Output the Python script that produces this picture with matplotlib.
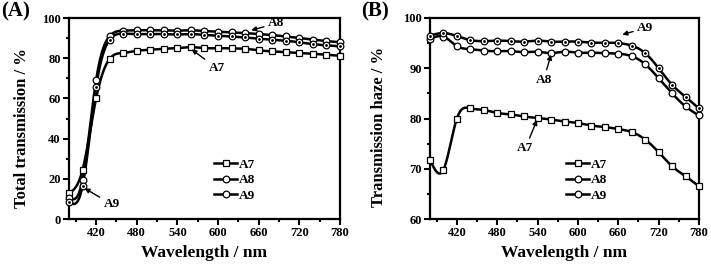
import numpy as np
import matplotlib
matplotlib.use("Agg")
import matplotlib.pyplot as plt
from matplotlib.ticker import MultipleLocator

plt.rcParams['font.family'] = ['Liberation Serif', 'DejaVu Serif']
plt.rcParams['font.weight'] = 'bold'

wavelength = [380, 400, 420, 440, 460, 480, 500, 520, 540, 560, 580,
              600, 620, 640, 660, 680, 700, 720, 740, 760, 780]

# Panel A: total transmission (%)
tt_a7 = [12.8, 24.4, 60.0, 79.7, 82.6, 83.7, 84.2, 84.7, 85.0, 85.5, 85.0,
         85.0, 84.9, 84.7, 83.9, 83.4, 83.0, 82.6, 82.2, 81.7, 81.2]
tt_a8 = [10.5, 19.5, 69.0, 91.0, 93.7, 93.9, 93.9, 93.9, 93.7, 93.9, 93.5,
         93.2, 92.8, 92.5, 92.0, 91.5, 90.8, 90.0, 89.3, 88.5, 88.0]
tt_a9 = [8.6, 16.4, 65.6, 89.2, 92.2, 92.0, 92.0, 92.0, 91.8, 92.0, 91.6,
         91.2, 90.8, 90.3, 89.7, 89.2, 88.7, 87.9, 87.0, 86.4, 85.9]

# Panel B: transmission haze (%)
th_a7 = [71.8, 69.8, 80.0, 82.0, 81.7, 81.1, 80.8, 80.4, 80.1, 79.8, 79.4,
         79.1, 78.6, 78.3, 77.9, 77.3, 75.8, 73.3, 70.5, 68.5, 66.5]
th_a8 = [95.8, 96.3, 94.4, 93.8, 93.5, 93.4, 93.4, 93.2, 93.3, 93.0, 93.3,
         93.1, 93.1, 93.0, 92.9, 92.4, 90.8, 88.0, 85.0, 82.4, 80.6]
th_a9 = [96.5, 97.0, 96.4, 95.6, 95.4, 95.5, 95.4, 95.3, 95.5, 95.3, 95.3,
         95.3, 95.1, 95.1, 95.0, 94.5, 93.0, 90.0, 86.7, 84.3, 82.0]

series_names = ['A7', 'A8', 'A9']
x_ticks = [420, 480, 540, 600, 660, 720, 780]


def spline(x, y, n=400):
    x = np.asarray(x, float)
    y = np.asarray(y, float)
    m = len(x)
    h = np.diff(x)
    A = np.zeros((m, m))
    b = np.zeros(m)
    A[0, 0] = 1
    A[-1, -1] = 1
    for i in range(1, m - 1):
        A[i, i - 1] = h[i - 1]
        A[i, i] = 2 * (h[i - 1] + h[i])
        A[i, i + 1] = h[i]
        b[i] = 6 * ((y[i + 1] - y[i]) / h[i] - (y[i] - y[i - 1]) / h[i - 1])
    M = np.linalg.solve(A, b)
    xs = np.linspace(x[0], x[-1], n)
    idx = np.clip(np.searchsorted(x, xs) - 1, 0, m - 2)
    x0, x1 = x[idx], x[idx + 1]
    hh = x1 - x0
    t0 = x1 - xs
    t1 = xs - x0
    ys = (M[idx] * t0**3 / (6 * hh) + M[idx + 1] * t1**3 / (6 * hh)
          + (y[idx] / hh - M[idx] * hh / 6) * t0
          + (y[idx + 1] / hh - M[idx + 1] * hh / 6) * t1)
    return xs, ys


fig = plt.figure(figsize=(7.11, 2.67), dpi=100)
axA = fig.add_axes([69 / 711, 48 / 267, 271 / 711, 201 / 267])
axB = fig.add_axes([430 / 711, 48 / 267, 269 / 711, 201 / 267])

markers = ['s', 'o', 'o']
lw = 1.8
ms = 4.8


def draw(ax, ys_list):
    handles = []
    for name, ys, mk in zip(series_names, ys_list, markers):
        sx, sy = spline(wavelength, ys)
        ax.plot(sx, sy, color='black', lw=lw, zorder=2, clip_on=False)
        ax.plot(wavelength, ys, linestyle='none', marker=mk, ms=ms,
                mfc='white', mec='black', mew=0.9, zorder=3, clip_on=False)
        if name == 'A9':
            ax.plot(wavelength, ys, linestyle='none', marker='o', ms=1.0,
                    mfc='black', mec='black', zorder=4, clip_on=False)
        h, = ax.plot([], [], color='black', lw=lw, marker=mk, ms=ms,
                     mfc='white', mec='black', mew=0.9)
        handles.append(h)
    return handles


hA = draw(axA, [tt_a7, tt_a8, tt_a9])
hB = draw(axB, [th_a7, th_a8, th_a9])

for ax in (axA, axB):
    ax.set_xlim(380, 780)
    ax.set_xticks(x_ticks)
    ax.xaxis.set_minor_locator(MultipleLocator(30))
    ax.tick_params(which='major', direction='out', length=4, width=1.5,
                   labelsize=9, pad=2)
    ax.tick_params(which='minor', direction='out', length=2.5, width=1.5)
    for sp in ax.spines.values():
        sp.set_linewidth(1.6)
    ax.set_xlabel('Wavelength / nm', fontsize=12.5, fontweight='bold', labelpad=4)

axA.set_ylim(0, 100)
axA.yaxis.set_major_locator(MultipleLocator(20))
axA.yaxis.set_minor_locator(MultipleLocator(10))
axA.set_ylabel('Total transmission / %', fontsize=12, fontweight='bold')
axA.yaxis.set_label_coords(-0.145, 0.45)

axB.set_ylim(60, 100)
axB.yaxis.set_major_locator(MultipleLocator(10))
axB.yaxis.set_minor_locator(MultipleLocator(5))
axB.set_ylabel('Transmission haze / %', fontsize=12, fontweight='bold')
axB.yaxis.set_label_coords(-0.16, 0.46)

for ax in (axA, axB):
    for lab in ax.get_xticklabels() + ax.get_yticklabels():
        lab.set_fontweight('bold')

# Legends
for ax, hs, bx in ((axA, hA, 0.5), (axB, hB, 0.47)):
    ax.legend(hs, series_names, loc='lower left',
              bbox_to_anchor=(bx, 0.04),
              frameon=False, handlelength=1.8,
              handletextpad=0.1, labelspacing=0.25, borderpad=0.2,
              prop={'weight': 'bold', 'size': 9.5})

arrow = dict(arrowstyle='-|>', color='black', lw=1.0, mutation_scale=7,
             shrinkA=1, shrinkB=0)
akw = dict(fontsize=9.5, fontweight='bold', ha='center', va='center')
axA.annotate('A8', xy=(649, 93.9), xytext=(686, 97.3), arrowprops=arrow, **akw)
axA.annotate('A7', xy=(561, 84.4), xytext=(598, 75.0), arrowprops=arrow, **akw)
axA.annotate('A9', xy=(403, 15.3), xytext=(443, 7.3), arrowprops=arrow, **akw)

axB.annotate('A9', xy=(666, 96.7), xytext=(700, 98.0), arrowprops=arrow, **akw)
axB.annotate('A8', xy=(560, 92.7), xytext=(549, 87.7), arrowprops=arrow, **akw)
axB.annotate('A7', xy=(539, 79.7), xytext=(522, 74.1), arrowprops=arrow, **akw)

fig.text(1 / 711, 1 - 11 / 267, '(A)', fontsize=15, fontweight='bold', va='center')
fig.text(361 / 711, 1 - 11 / 267, '(B)', fontsize=15, fontweight='bold', va='center')

fig.savefig('out.png', dpi=100)
